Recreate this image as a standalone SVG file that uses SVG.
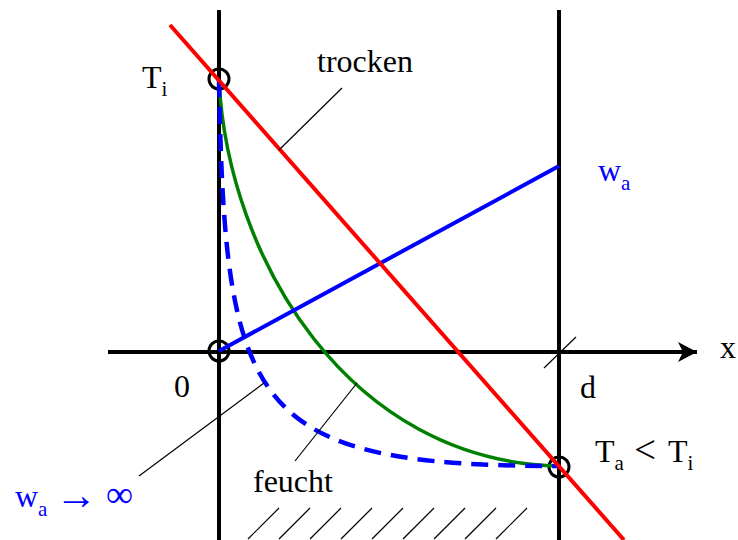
<svg xmlns="http://www.w3.org/2000/svg" width="738" height="540" viewBox="0 0 738 540">
<style>
text{font-family:"Liberation Serif","DejaVu Serif",serif;font-size:32px;fill:#000}
.sub{font-size:21px}
.blue{fill:#0000ff}
.thin{stroke:#000;stroke-width:1.2;fill:none}
.axis{stroke:#000;stroke-width:4;fill:none}
.pt{stroke:#000;stroke-width:3;fill:none}
</style>
<defs>
<marker id="arr" markerWidth="20" markerHeight="20" refX="19" refY="10" orient="auto" markerUnits="userSpaceOnUse">
<path d="M0,0 L19,10 L0,20 L5,10 Z" fill="#000"/>
</marker>
</defs>
<rect width="738" height="540" fill="#fff"/>
<g id="axes">
<line class="axis" x1="219" y1="10" x2="219" y2="540"/>
<line class="axis" x1="559" y1="10" x2="559" y2="540"/>
<line class="axis" x1="108" y1="352" x2="697" y2="352" marker-end="url(#arr)"/>
<line class="thin" x1="544" y1="368" x2="576" y2="337"/>
</g>
<g id="hatching" class="thin">
<line x1="248" y1="539" x2="279" y2="508"/>
<line x1="279" y1="539" x2="310" y2="508"/>
<line x1="310" y1="539" x2="341" y2="508"/>
<line x1="341" y1="539" x2="372" y2="508"/>
<line x1="372" y1="539" x2="403" y2="508"/>
<line x1="403" y1="539" x2="434" y2="508"/>
<line x1="434" y1="539" x2="465" y2="508"/>
<line x1="465" y1="539" x2="496" y2="508"/>
<line x1="496" y1="539" x2="527" y2="508"/>
</g>
<g id="points">
<circle class="pt" cx="219" cy="79" r="10"/>
<circle class="pt" cx="219" cy="351" r="10"/>
<circle class="pt" cx="559" cy="467" r="10"/>
</g>
<g id="connectors">
<path id="feucht-curve" d="M219,80 C228,260 350,462 559,466" stroke="#008000" stroke-width="3.5" fill="none"/>
<path id="wa-inf-curve" d="M219,80 C225,410 250,466 559,466" stroke="#0000ff" stroke-width="4.5" stroke-dasharray="17,10" fill="none"/>
<line id="wa-line" x1="219" y1="351" x2="559" y2="166" stroke="#0000ff" stroke-width="4"/>
<line id="trocken-line" x1="170" y1="25" x2="624" y2="540" stroke="#ff0000" stroke-width="4"/>
<line class="thin" x1="342" y1="88" x2="279" y2="150"/>
<line class="thin" x1="139" y1="476" x2="264" y2="383"/>
<line class="thin" x1="295" y1="461" x2="357" y2="383"/>
</g>
<g id="labels">
<text x="142" y="88">T<tspan class="sub" dy="8">i</tspan></text>
<text x="317" y="72">trocken</text>
<text class="blue" x="598" y="181">w<tspan class="sub blue" dy="9">a</tspan></text>
<text x="720" y="358">x</text>
<text x="174" y="397">0</text>
<text x="580" y="398">d</text>
<text x="595" y="462">T<tspan class="sub" dy="8">a</tspan></text>
<text x="634" y="463" style="font-size:39px">&lt;</text>
<text x="668" y="462">T<tspan class="sub" dy="8">i</tspan></text>
<text class="blue" x="15" y="507">w<tspan class="sub blue" dy="9">a</tspan></text>
<text class="blue" x="55" y="509" style="font-size:42px">→</text>
<text class="blue" x="106" y="507" style="font-size:38px">∞</text>
<text x="253" y="492">feucht</text>
</g>
</svg>
